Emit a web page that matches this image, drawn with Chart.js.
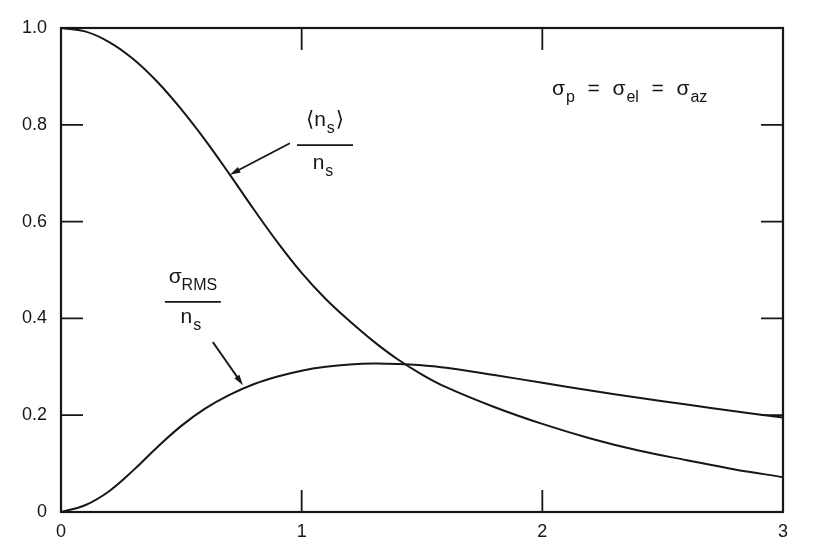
<!DOCTYPE html>
<html>
<head>
<meta charset="utf-8">
<script src="https://cdn.jsdelivr.net/npm/chart.js@4.4.0/dist/chart.umd.min.js"></script>
<style>
    html, body { margin: 0; padding: 0; background: #fff; }
    #wrap { width: 837px; height: 549px; position: relative; }
</style>
</head>
<body>
<div id="wrap"><canvas id="grafico"></canvas></div>
<script>
// Curva <n_s>/n_s
const xMedia = [0, 0.1, 0.2, 0.3, 0.4, 0.5, 0.6, 0.7, 0.8, 0.9, 1.0, 1.1, 1.2, 1.3, 1.4, 1.5, 1.6, 1.8, 2.0, 2.2, 2.4, 2.6, 2.8, 3.0];
const yMedia = [1.0, 0.993, 0.971, 0.936, 0.889, 0.832, 0.768, 0.698, 0.626, 0.557, 0.494, 0.44, 0.394, 0.352, 0.315, 0.284, 0.258, 0.217, 0.182, 0.152, 0.127, 0.107, 0.088, 0.072];

// Curva sigma_RMS/n_s
const xRms = [0, 0.1, 0.2, 0.3, 0.4, 0.5, 0.6, 0.7, 0.8, 0.9, 1.0, 1.1, 1.2, 1.3, 1.4, 1.5, 1.6, 1.8, 2.0, 2.2, 2.4, 2.6, 2.8, 3.0];
const yRms = [0, 0.014, 0.043, 0.086, 0.134, 0.178, 0.214, 0.242, 0.264, 0.28, 0.292, 0.3, 0.305, 0.307, 0.306, 0.303, 0.298, 0.283, 0.267, 0.251, 0.236, 0.222, 0.208, 0.195];

// Marcas dos eixos
const xTicks = [0, 1, 2, 3];
const yTicks = [0, 0.2, 0.4, 0.6, 0.8, 1.0];

const FONTE = '"Liberation Sans", Arial, "DejaVu Sans", sans-serif';
const COR = '#161616';

// desenha texto com subscritos: partes = [[texto, sub?], ...]
function textoSub(ctx, partes, x, y, tam, alinhar, esp = 0) {
    const sub = Math.round(tam * 0.78);
    let largura = 0;
    partes.forEach(([t, s]) => {
        ctx.font = `${s ? sub : tam}px ${FONTE}`;
        largura += ctx.measureText(t).width + esp;
    });
    largura -= esp;
    let cx = alinhar === 'center' ? x - largura / 2 : x;
    ctx.textAlign = 'left';
    ctx.textBaseline = 'alphabetic';
    partes.forEach(([t, s]) => {
        ctx.font = `${s ? sub : tam}px ${FONTE}`;
        ctx.fillText(t, cx, s ? y + tam * 0.35 : y);
        cx += ctx.measureText(t).width + esp;
    });
}

function seta(ctx, x1, y1, x2, y2) {
    const ang = Math.atan2(y2 - y1, x2 - x1);
    const tam = 11, abre = 0.28;
    ctx.beginPath();
    ctx.moveTo(x1, y1);
    ctx.lineTo(x2 - Math.cos(ang) * tam * 0.7, y2 - Math.sin(ang) * tam * 0.7);
    ctx.lineWidth = 1.8;
    ctx.stroke();
    ctx.beginPath();
    ctx.moveTo(x2, y2);
    ctx.lineTo(x2 - tam * Math.cos(ang - abre), y2 - tam * Math.sin(ang - abre));
    ctx.lineTo(x2 - tam * Math.cos(ang + abre), y2 - tam * Math.sin(ang + abre));
    ctx.closePath();
    ctx.fill();
}

// moldura com marcas para dentro nos quatro lados
const moldura = {
    id: 'moldura',
    afterDatasetsDraw(chart) {
        const { ctx, chartArea: a, scales: { x, y } } = chart;
        ctx.save();
        ctx.strokeStyle = COR;
        ctx.lineWidth = 2.2;
        ctx.strokeRect(a.left, a.top, a.right - a.left, a.bottom - a.top);
        ctx.lineWidth = 1.8;
        const tl = 22;
        xTicks.slice(1, -1).forEach(v => {
            const px = x.getPixelForValue(v);
            ctx.beginPath();
            ctx.moveTo(px, a.bottom); ctx.lineTo(px, a.bottom - tl);
            ctx.moveTo(px, a.top); ctx.lineTo(px, a.top + tl);
            ctx.stroke();
        });
        yTicks.slice(1, -1).forEach(v => {
            const py = y.getPixelForValue(v);
            ctx.beginPath();
            ctx.moveTo(a.left, py); ctx.lineTo(a.left + tl, py);
            ctx.moveTo(a.right, py); ctx.lineTo(a.right - tl, py);
            ctx.stroke();
        });
        ctx.restore();
    }
};

// rótulos das curvas e da condição
const rotulos = {
    id: 'rotulos',
    afterDraw(chart) {
        const { ctx, scales: { x, y } } = chart;
        const px = v => x.getPixelForValue(v);
        const py = v => y.getPixelForValue(v);
        ctx.save();
        ctx.fillStyle = COR;
        ctx.strokeStyle = COR;

        // sigma_p = sigma_el = sigma_az
        textoSub(ctx, [['σ', false], ['p', true], ['  =  ', false], ['σ', false], ['el', true], ['  =  ', false], ['σ', false], ['az', true]],
            px(2.04), py(0.862), 21, 'left', 1);

        // <n_s>/n_s
        let cx = px(1.097), ly = py(0.758);
        textoSub(ctx, [['⟨n', false], ['s', true], ['⟩', false]], cx, ly - 19, 21, 'center', 1);
        ctx.lineWidth = 1.6;
        ctx.beginPath(); ctx.moveTo(cx - 28, ly); ctx.lineTo(cx + 28, ly); ctx.stroke();
        textoSub(ctx, [['n', false], ['s', true]], cx - 2, ly + 24, 21, 'center', 1);
        seta(ctx, px(0.951), py(0.762), px(0.702), py(0.697));

        // sigma_RMS/n_s
        cx = px(0.548); ly = py(0.434);
        textoSub(ctx, [['σ', false], ['RMS', true]], cx, ly - 19, 21, 'center');
        ctx.beginPath(); ctx.moveTo(cx - 28, ly); ctx.lineTo(cx + 28, ly); ctx.stroke();
        textoSub(ctx, [['n', false], ['s', true]], cx - 2, ly + 21, 21, 'center', 1);
        seta(ctx, px(0.631), py(0.351), px(0.756), py(0.262));

        ctx.restore();
    }
};

document.addEventListener('DOMContentLoaded', () => {
    const estilo = { borderColor: COR, borderWidth: 2, pointRadius: 0, fill: false, tension: 0.4 };
    new Chart(document.getElementById('grafico').getContext('2d'), {
        type: 'line',
        data: {
            datasets: [
                { label: '<n_s>/n_s', data: xMedia.map((v, i) => ({ x: v, y: yMedia[i] })), ...estilo },
                { label: 'sigma_RMS/n_s', data: xRms.map((v, i) => ({ x: v, y: yRms[i] })), ...estilo },
            ]
        },
        options: {
            responsive: true, maintainAspectRatio: false, animation: false,
            layout: { padding: { top: 28, right: 54, left: 0, bottom: 0 } },
            plugins: { legend: { display: false }, tooltip: { enabled: false } },
            scales: {
                x: {
                    type: 'linear', min: 0, max: 3,
                    afterBuildTicks: s => { s.ticks = xTicks.map(v => ({ value: v })); },
                    ticks: { color: COR, padding: 9, font: { family: FONTE, size: 18 }, callback: v => String(v) },
                    grid: { display: false, drawTicks: false },
                    border: { display: false },
                    afterFit: s => { s.height = 37; }
                },
                y: {
                    min: 0, max: 1,
                    afterBuildTicks: s => { s.ticks = yTicks.map(v => ({ value: v })); },
                    ticks: { color: COR, padding: 14, font: { family: FONTE, size: 18 }, callback: v => v === 0 ? '0' : v.toFixed(1) },
                    grid: { display: false, drawTicks: false },
                    border: { display: false },
                    afterFit: s => { s.width = 61; }
                }
            }
        },
        plugins: [moldura, rotulos]
    });
});
</script>
</body>
</html>
